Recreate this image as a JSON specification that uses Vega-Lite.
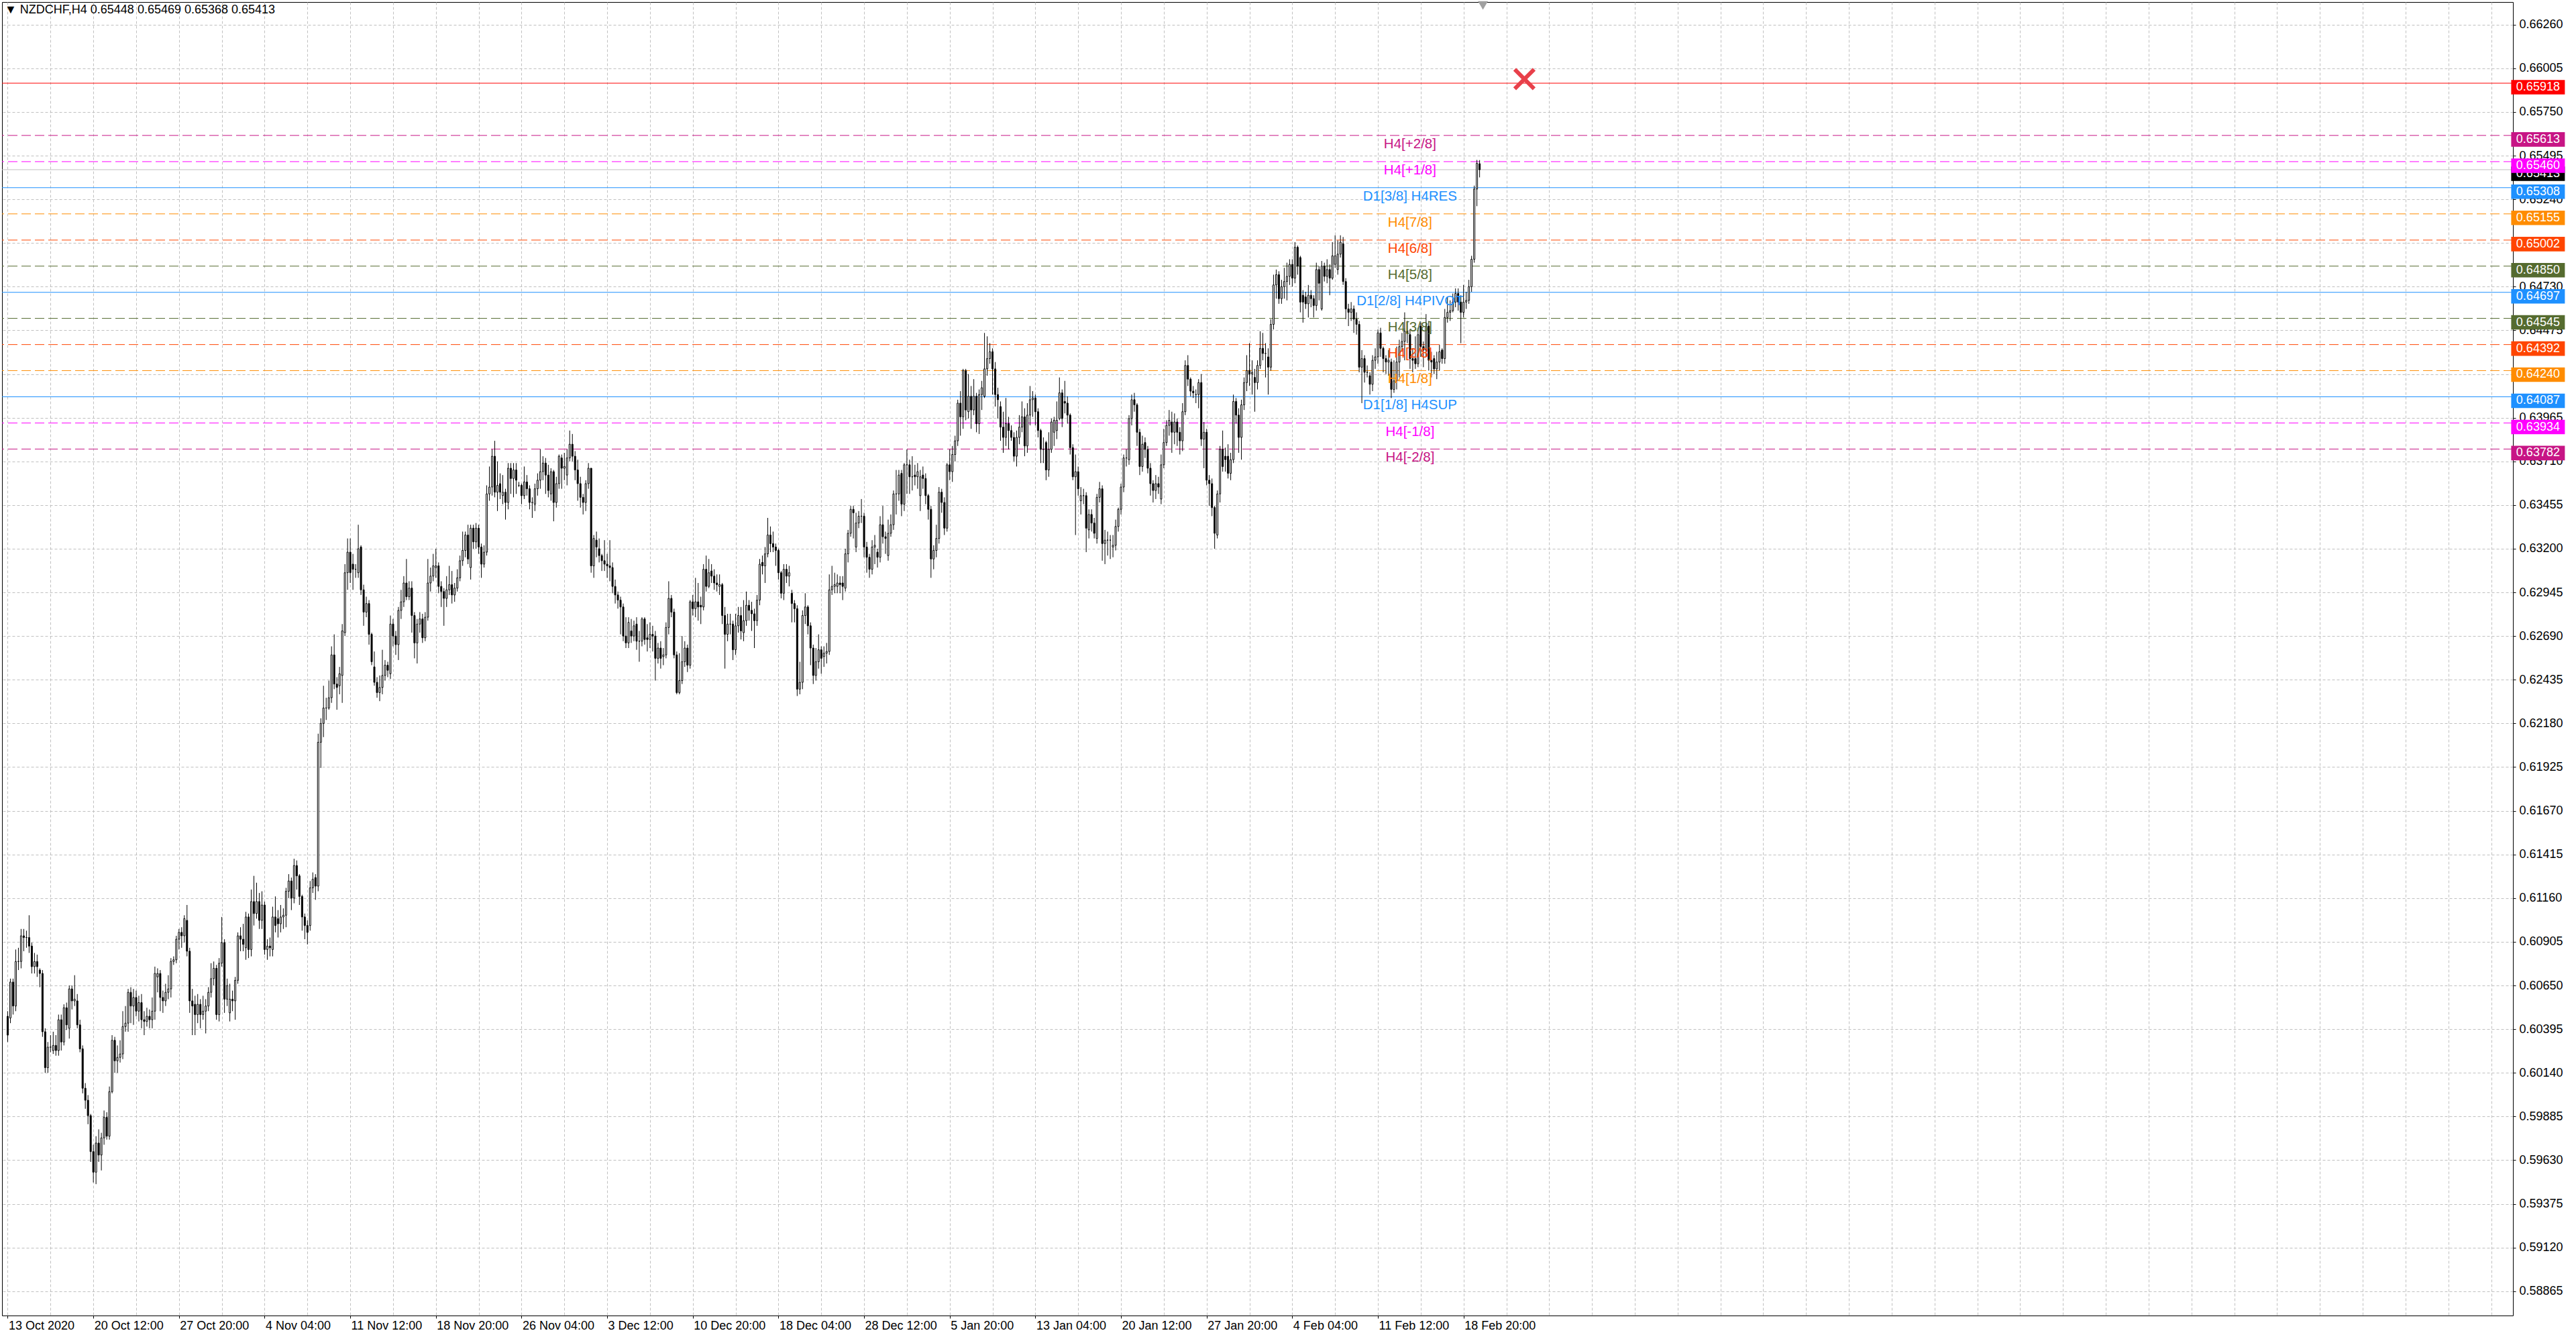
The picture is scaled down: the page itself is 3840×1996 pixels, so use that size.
{
"$schema": "https://vega.github.io/schema/vega-lite/v6.json",
"width": 3743, "height": 1958,
"autosize": {"type": "none"},
"padding": {"left": 3, "top": 3, "right": 94, "bottom": 35},
"background": "white",
"title": {"text": "▼  NZDCHF,H4  0.65448 0.65469 0.65368 0.65413", "anchor": "start", "frame": "group", "offset": -22, "dx": 4, "font": "Liberation Sans", "fontSize": 18, "fontWeight": "normal", "color": "black"},
"datasets": {
"levels": [
{"name":"Bid","price":0.65413,"kind":"BID"},
{"name":"Target","price":0.65918,"kind":"X"},
{"name":"H4[+2/8]","price":0.65613,"kind":"H4"},
{"name":"H4[+1/8]","price":0.6546,"kind":"H4"},
{"name":"D1[3/8] H4RES","price":0.65308,"kind":"D1"},
{"name":"H4[7/8]","price":0.65155,"kind":"H4"},
{"name":"H4[6/8]","price":0.65002,"kind":"H4"},
{"name":"H4[5/8]","price":0.6485,"kind":"H4"},
{"name":"D1[2/8] H4PIVOT","price":0.64697,"kind":"D1"},
{"name":"H4[3/8]","price":0.64545,"kind":"H4"},
{"name":"H4[2/8]","price":0.64392,"kind":"H4"},
{"name":"H4[1/8]","price":0.6424,"kind":"H4"},
{"name":"D1[1/8] H4SUP","price":0.64087,"kind":"D1"},
{"name":"H4[-1/8]","price":0.63934,"kind":"H4"},
{"name":"H4[-2/8]","price":0.63782,"kind":"H4"}
],
"objects": [
{"obj":"cross","i":566.75,"price":0.65942},
{"obj":"shift","i":551.25,"price":0.66372}
],
"candles": [
{"i":0,"o":0.6047,"h":0.605,"l":0.6032,"c":0.6036},
{"i":1,"o":0.6046,"h":0.6069,"l":0.6043,"c":0.6067},
{"i":2,"o":0.6067,"h":0.6069,"l":0.6048,"c":0.6053},
{"i":3,"o":0.6053,"h":0.6086,"l":0.605,"c":0.6079},
{"i":4,"o":0.6079,"h":0.6087,"l":0.6074,"c":0.6079},
{"i":5,"o":0.6079,"h":0.6098,"l":0.6075,"c":0.6094},
{"i":6,"o":0.6094,"h":0.6098,"l":0.6085,"c":0.6093},
{"i":7,"o":0.6093,"h":0.6097,"l":0.6087,"c":0.6093},
{"i":8,"o":0.6093,"h":0.6106,"l":0.6084,"c":0.6088},
{"i":9,"o":0.6088,"h":0.609,"l":0.6072,"c":0.6076},
{"i":10,"o":0.6076,"h":0.6084,"l":0.6072,"c":0.6079},
{"i":11,"o":0.6079,"h":0.6083,"l":0.607,"c":0.6076},
{"i":12,"o":0.6074,"h":0.6075,"l":0.6064,"c":0.6072},
{"i":13,"o":0.6072,"h":0.6074,"l":0.6035,"c":0.6038},
{"i":14,"o":0.6038,"h":0.604,"l":0.6014,"c":0.6017},
{"i":15,"o":0.6017,"h":0.6032,"l":0.6014,"c":0.6029},
{"i":16,"o":0.6029,"h":0.6036,"l":0.6026,"c":0.6029},
{"i":17,"o":0.6027,"h":0.6038,"l":0.6025,"c":0.603},
{"i":18,"o":0.603,"h":0.6036,"l":0.6024,"c":0.6027},
{"i":19,"o":0.6027,"h":0.6048,"l":0.6024,"c":0.6045},
{"i":20,"o":0.6045,"h":0.6048,"l":0.6027,"c":0.6032},
{"i":21,"o":0.6032,"h":0.6054,"l":0.603,"c":0.6052},
{"i":22,"o":0.6052,"h":0.6055,"l":0.6039,"c":0.6042},
{"i":23,"o":0.604,"h":0.6065,"l":0.6034,"c":0.6063},
{"i":24,"o":0.6063,"h":0.6065,"l":0.6051,"c":0.6056},
{"i":25,"o":0.6056,"h":0.6071,"l":0.6053,"c":0.6057},
{"i":26,"o":0.6056,"h":0.606,"l":0.604,"c":0.6042},
{"i":27,"o":0.6042,"h":0.6045,"l":0.6026,"c":0.6028},
{"i":28,"o":0.6028,"h":0.603,"l":0.6002,"c":0.6005},
{"i":29,"o":0.6005,"h":0.6008,"l":0.5993,"c":0.5998},
{"i":30,"o":0.5998,"h":0.6001,"l":0.5984,"c":0.5989},
{"i":31,"o":0.5989,"h":0.599,"l":0.5962,"c":0.5968},
{"i":32,"o":0.5968,"h":0.5972,"l":0.595,"c":0.5956},
{"i":33,"o":0.5956,"h":0.5977,"l":0.5949,"c":0.5973},
{"i":34,"o":0.5973,"h":0.5981,"l":0.5962,"c":0.5966},
{"i":35,"o":0.5966,"h":0.5979,"l":0.5957,"c":0.5976},
{"i":36,"o":0.5976,"h":0.5992,"l":0.5972,"c":0.5988},
{"i":37,"o":0.5988,"h":0.5991,"l":0.5975,"c":0.5977},
{"i":38,"o":0.5977,"h":0.6006,"l":0.5975,"c":0.6003},
{"i":39,"o":0.6003,"h":0.6036,"l":0.6002,"c":0.6033},
{"i":40,"o":0.6033,"h":0.6035,"l":0.6014,"c":0.6021},
{"i":41,"o":0.6021,"h":0.603,"l":0.6014,"c":0.6023},
{"i":42,"o":0.6023,"h":0.6033,"l":0.602,"c":0.6025},
{"i":43,"o":0.6025,"h":0.605,"l":0.6022,"c":0.6041},
{"i":44,"o":0.6041,"h":0.6053,"l":0.6038,"c":0.6043},
{"i":45,"o":0.6043,"h":0.6063,"l":0.6038,"c":0.6061},
{"i":46,"o":0.6061,"h":0.6064,"l":0.6043,"c":0.6053},
{"i":47,"o":0.6053,"h":0.6063,"l":0.6042,"c":0.6058},
{"i":48,"o":0.6058,"h":0.6062,"l":0.6047,"c":0.605},
{"i":49,"o":0.605,"h":0.6059,"l":0.6044,"c":0.6055},
{"i":50,"o":0.6055,"h":0.606,"l":0.604,"c":0.6045},
{"i":51,"o":0.6045,"h":0.605,"l":0.6036,"c":0.6044},
{"i":52,"o":0.6044,"h":0.6052,"l":0.6041,"c":0.6047},
{"i":53,"o":0.6047,"h":0.6051,"l":0.604,"c":0.6045},
{"i":54,"o":0.6045,"h":0.6058,"l":0.604,"c":0.605},
{"i":55,"o":0.605,"h":0.6076,"l":0.6045,"c":0.6072},
{"i":56,"o":0.607,"h":0.6075,"l":0.6061,"c":0.6072},
{"i":57,"o":0.6072,"h":0.6074,"l":0.605,"c":0.6058},
{"i":58,"o":0.6058,"h":0.6062,"l":0.6049,"c":0.6056},
{"i":59,"o":0.6056,"h":0.6066,"l":0.6053,"c":0.6061},
{"i":60,"o":0.6061,"h":0.6071,"l":0.6057,"c":0.6063},
{"i":61,"o":0.6063,"h":0.6081,"l":0.6058,"c":0.6079},
{"i":62,"o":0.6079,"h":0.6082,"l":0.6077,"c":0.608},
{"i":63,"o":0.608,"h":0.6094,"l":0.6078,"c":0.6092},
{"i":64,"o":0.6092,"h":0.6098,"l":0.6086,"c":0.6096},
{"i":65,"o":0.6096,"h":0.6099,"l":0.6087,"c":0.6094},
{"i":66,"o":0.6094,"h":0.6106,"l":0.609,"c":0.6104},
{"i":67,"o":0.6103,"h":0.6112,"l":0.6082,"c":0.6085},
{"i":68,"o":0.6085,"h":0.6087,"l":0.6049,"c":0.6056},
{"i":69,"o":0.6056,"h":0.6063,"l":0.6036,"c":0.6053},
{"i":70,"o":0.6054,"h":0.6059,"l":0.6036,"c":0.6048},
{"i":71,"o":0.6048,"h":0.606,"l":0.6043,"c":0.6054},
{"i":72,"o":0.6054,"h":0.6057,"l":0.604,"c":0.6048},
{"i":73,"o":0.6048,"h":0.6059,"l":0.6045,"c":0.605},
{"i":74,"o":0.605,"h":0.6057,"l":0.6037,"c":0.6053},
{"i":75,"o":0.6053,"h":0.6064,"l":0.605,"c":0.6061},
{"i":76,"o":0.6061,"h":0.6078,"l":0.6058,"c":0.6069},
{"i":77,"o":0.6069,"h":0.6079,"l":0.6065,"c":0.6075},
{"i":78,"o":0.6075,"h":0.6077,"l":0.6045,"c":0.6048},
{"i":79,"o":0.6048,"h":0.6081,"l":0.6044,"c":0.6078},
{"i":80,"o":0.6078,"h":0.6105,"l":0.6076,"c":0.609},
{"i":81,"o":0.609,"h":0.6092,"l":0.6049,"c":0.6057},
{"i":82,"o":0.6057,"h":0.6069,"l":0.6053,"c":0.6065},
{"i":83,"o":0.6049,"h":0.6066,"l":0.6044,"c":0.6057},
{"i":84,"o":0.6057,"h":0.6062,"l":0.605,"c":0.6056},
{"i":85,"o":0.6056,"h":0.607,"l":0.6045,"c":0.6068},
{"i":86,"o":0.6068,"h":0.6096,"l":0.6066,"c":0.6094},
{"i":87,"o":0.6094,"h":0.6099,"l":0.6085,"c":0.6092},
{"i":88,"o":0.6092,"h":0.6101,"l":0.6085,"c":0.6089},
{"i":89,"o":0.6087,"h":0.6108,"l":0.608,"c":0.6105},
{"i":90,"o":0.6105,"h":0.6107,"l":0.6081,"c":0.6086},
{"i":91,"o":0.6086,"h":0.6121,"l":0.6082,"c":0.6114},
{"i":92,"o":0.6114,"h":0.6129,"l":0.61,"c":0.6107},
{"i":93,"o":0.6107,"h":0.6125,"l":0.6104,"c":0.6114},
{"i":94,"o":0.6114,"h":0.6119,"l":0.6098,"c":0.6103},
{"i":95,"o":0.6103,"h":0.612,"l":0.6098,"c":0.6112},
{"i":96,"o":0.6112,"h":0.6114,"l":0.6083,"c":0.6086},
{"i":97,"o":0.6086,"h":0.6092,"l":0.608,"c":0.6088},
{"i":98,"o":0.6088,"h":0.6093,"l":0.6082,"c":0.6087},
{"i":99,"o":0.6086,"h":0.6111,"l":0.6082,"c":0.6105},
{"i":100,"o":0.6105,"h":0.6117,"l":0.6096,"c":0.61},
{"i":101,"o":0.6104,"h":0.6109,"l":0.6093,"c":0.6101},
{"i":102,"o":0.6101,"h":0.6112,"l":0.6096,"c":0.6105},
{"i":103,"o":0.6105,"h":0.611,"l":0.6098,"c":0.6106},
{"i":104,"o":0.6106,"h":0.6122,"l":0.6099,"c":0.612},
{"i":105,"o":0.612,"h":0.613,"l":0.6116,"c":0.6126},
{"i":106,"o":0.6126,"h":0.6128,"l":0.6109,"c":0.6116},
{"i":107,"o":0.6116,"h":0.6139,"l":0.6113,"c":0.6135},
{"i":108,"o":0.6135,"h":0.6138,"l":0.6121,"c":0.6129},
{"i":109,"o":0.6129,"h":0.613,"l":0.6112,"c":0.6117},
{"i":110,"o":0.6117,"h":0.6118,"l":0.6097,"c":0.6105},
{"i":111,"o":0.6105,"h":0.6107,"l":0.6092,"c":0.61},
{"i":112,"o":0.61,"h":0.6103,"l":0.6089,"c":0.6096},
{"i":113,"o":0.61,"h":0.6126,"l":0.6097,"c":0.6122},
{"i":114,"o":0.6122,"h":0.6131,"l":0.6119,"c":0.6127},
{"i":115,"o":0.6128,"h":0.613,"l":0.6115,"c":0.6123},
{"i":116,"o":0.6123,"h":0.6212,"l":0.612,"c":0.6207},
{"i":117,"o":0.6207,"h":0.6221,"l":0.6192,"c":0.6218},
{"i":118,"o":0.6218,"h":0.624,"l":0.621,"c":0.6227},
{"i":119,"o":0.6227,"h":0.6233,"l":0.622,"c":0.6227},
{"i":120,"o":0.6227,"h":0.6243,"l":0.6226,"c":0.6233},
{"i":121,"o":0.6233,"h":0.6263,"l":0.623,"c":0.6258},
{"i":122,"o":0.6258,"h":0.627,"l":0.6238,"c":0.6241},
{"i":123,"o":0.6241,"h":0.6245,"l":0.6226,"c":0.6239},
{"i":124,"o":0.624,"h":0.6251,"l":0.6235,"c":0.6247},
{"i":125,"o":0.6246,"h":0.6276,"l":0.623,"c":0.6272},
{"i":126,"o":0.6271,"h":0.6311,"l":0.6269,"c":0.6306},
{"i":127,"o":0.6306,"h":0.6326,"l":0.6296,"c":0.6318},
{"i":128,"o":0.6318,"h":0.6326,"l":0.63,"c":0.6306},
{"i":129,"o":0.6311,"h":0.6317,"l":0.6296,"c":0.6308},
{"i":130,"o":0.6308,"h":0.6311,"l":0.6303,"c":0.6308},
{"i":131,"o":0.6306,"h":0.6334,"l":0.6303,"c":0.632},
{"i":132,"o":0.6321,"h":0.6322,"l":0.6293,"c":0.6296},
{"i":133,"o":0.6296,"h":0.6299,"l":0.6275,"c":0.6283},
{"i":134,"o":0.6283,"h":0.6292,"l":0.628,"c":0.6288},
{"i":135,"o":0.6288,"h":0.629,"l":0.6264,"c":0.627},
{"i":136,"o":0.627,"h":0.6271,"l":0.6252,"c":0.6254},
{"i":137,"o":0.6251,"h":0.626,"l":0.624,"c":0.6242},
{"i":138,"o":0.6242,"h":0.6245,"l":0.6233,"c":0.6236},
{"i":139,"o":0.6236,"h":0.6246,"l":0.6231,"c":0.6239},
{"i":140,"o":0.6239,"h":0.6261,"l":0.6235,"c":0.6246},
{"i":141,"o":0.6246,"h":0.6255,"l":0.6243,"c":0.6252},
{"i":142,"o":0.6252,"h":0.6254,"l":0.6245,"c":0.6249},
{"i":143,"o":0.6247,"h":0.6281,"l":0.6244,"c":0.6276},
{"i":144,"o":0.6276,"h":0.6279,"l":0.6263,"c":0.6269},
{"i":145,"o":0.6269,"h":0.6272,"l":0.6258,"c":0.6264},
{"i":146,"o":0.6264,"h":0.6286,"l":0.6255,"c":0.6284},
{"i":147,"o":0.6284,"h":0.6296,"l":0.6279,"c":0.6289},
{"i":148,"o":0.6289,"h":0.6304,"l":0.6286,"c":0.63},
{"i":149,"o":0.63,"h":0.6314,"l":0.629,"c":0.6292},
{"i":150,"o":0.6292,"h":0.6301,"l":0.629,"c":0.6297},
{"i":151,"o":0.6297,"h":0.6301,"l":0.6271,"c":0.6281},
{"i":152,"o":0.6281,"h":0.6283,"l":0.6256,"c":0.6265},
{"i":153,"o":0.6265,"h":0.6279,"l":0.6253,"c":0.6276},
{"i":154,"o":0.6276,"h":0.6283,"l":0.6271,"c":0.6279},
{"i":155,"o":0.6279,"h":0.6282,"l":0.6265,"c":0.6268},
{"i":156,"o":0.6268,"h":0.6283,"l":0.6266,"c":0.628},
{"i":157,"o":0.628,"h":0.6314,"l":0.6278,"c":0.63},
{"i":158,"o":0.63,"h":0.6309,"l":0.6295,"c":0.6304},
{"i":159,"o":0.6304,"h":0.6317,"l":0.6301,"c":0.631},
{"i":160,"o":0.6309,"h":0.632,"l":0.6303,"c":0.631},
{"i":161,"o":0.631,"h":0.6312,"l":0.6294,"c":0.6298},
{"i":162,"o":0.6298,"h":0.6301,"l":0.6286,"c":0.6295},
{"i":163,"o":0.6295,"h":0.6297,"l":0.6275,"c":0.6291},
{"i":164,"o":0.6291,"h":0.6304,"l":0.6286,"c":0.6296},
{"i":165,"o":0.6296,"h":0.631,"l":0.6293,"c":0.6299},
{"i":166,"o":0.6299,"h":0.6307,"l":0.6288,"c":0.6293},
{"i":167,"o":0.6293,"h":0.63,"l":0.6289,"c":0.6297},
{"i":168,"o":0.6297,"h":0.6308,"l":0.6295,"c":0.6303},
{"i":169,"o":0.6303,"h":0.6316,"l":0.6301,"c":0.6313},
{"i":170,"o":0.6313,"h":0.633,"l":0.631,"c":0.6319},
{"i":171,"o":0.6319,"h":0.633,"l":0.6315,"c":0.6328},
{"i":172,"o":0.6328,"h":0.6334,"l":0.6311,"c":0.6314},
{"i":173,"o":0.6309,"h":0.6334,"l":0.6302,"c":0.6332},
{"i":174,"o":0.6332,"h":0.6334,"l":0.632,"c":0.6324},
{"i":175,"o":0.6324,"h":0.6335,"l":0.632,"c":0.6332},
{"i":176,"o":0.6332,"h":0.6334,"l":0.6317,"c":0.6321},
{"i":177,"o":0.6321,"h":0.6323,"l":0.6303,"c":0.6311},
{"i":178,"o":0.6311,"h":0.6322,"l":0.6309,"c":0.6318},
{"i":179,"o":0.6318,"h":0.6357,"l":0.6316,"c":0.6352},
{"i":180,"o":0.6352,"h":0.6368,"l":0.6348,"c":0.6356},
{"i":181,"o":0.6356,"h":0.6378,"l":0.6351,"c":0.6374},
{"i":182,"o":0.6374,"h":0.6383,"l":0.635,"c":0.6353},
{"i":183,"o":0.6353,"h":0.6371,"l":0.6342,"c":0.6357},
{"i":184,"o":0.6358,"h":0.6364,"l":0.6349,"c":0.6353},
{"i":185,"o":0.6351,"h":0.6363,"l":0.6346,"c":0.6353},
{"i":186,"o":0.6353,"h":0.6355,"l":0.6337,"c":0.6347},
{"i":187,"o":0.6347,"h":0.637,"l":0.6343,"c":0.6367},
{"i":188,"o":0.6367,"h":0.637,"l":0.6352,"c":0.6361},
{"i":189,"o":0.6361,"h":0.637,"l":0.635,"c":0.6366},
{"i":190,"o":0.6366,"h":0.637,"l":0.6352,"c":0.636},
{"i":191,"o":0.6357,"h":0.6359,"l":0.6356,"c":0.6357},
{"i":192,"o":0.6357,"h":0.6358,"l":0.6346,"c":0.6351},
{"i":193,"o":0.6351,"h":0.6368,"l":0.6349,"c":0.6359},
{"i":194,"o":0.6359,"h":0.6363,"l":0.6351,"c":0.6355},
{"i":195,"o":0.6355,"h":0.6357,"l":0.6343,"c":0.6347},
{"i":196,"o":0.6347,"h":0.635,"l":0.6338,"c":0.6347},
{"i":197,"o":0.6346,"h":0.6358,"l":0.6342,"c":0.6355},
{"i":198,"o":0.6355,"h":0.6364,"l":0.6351,"c":0.636},
{"i":199,"o":0.636,"h":0.6378,"l":0.6355,"c":0.6365},
{"i":200,"o":0.6365,"h":0.6374,"l":0.636,"c":0.637},
{"i":201,"o":0.637,"h":0.6373,"l":0.6352,"c":0.6363},
{"i":202,"o":0.6363,"h":0.6369,"l":0.635,"c":0.6354},
{"i":203,"o":0.6352,"h":0.6367,"l":0.6348,"c":0.6365},
{"i":204,"o":0.6365,"h":0.6366,"l":0.6336,"c":0.6347},
{"i":205,"o":0.6347,"h":0.6362,"l":0.6344,"c":0.6358},
{"i":206,"o":0.6358,"h":0.6375,"l":0.6355,"c":0.6374},
{"i":207,"o":0.6373,"h":0.6375,"l":0.6355,"c":0.6367},
{"i":208,"o":0.6367,"h":0.6376,"l":0.636,"c":0.6368},
{"i":209,"o":0.6363,"h":0.6378,"l":0.6357,"c":0.6373},
{"i":210,"o":0.6373,"h":0.6389,"l":0.6371,"c":0.6381},
{"i":211,"o":0.6381,"h":0.6387,"l":0.6371,"c":0.6374},
{"i":212,"o":0.6374,"h":0.6377,"l":0.636,"c":0.6366},
{"i":213,"o":0.6366,"h":0.6372,"l":0.6348,"c":0.6358},
{"i":214,"o":0.6358,"h":0.6362,"l":0.6344,"c":0.635},
{"i":215,"o":0.635,"h":0.6352,"l":0.634,"c":0.6347},
{"i":216,"o":0.6347,"h":0.636,"l":0.6342,"c":0.6358},
{"i":217,"o":0.6358,"h":0.637,"l":0.6355,"c":0.6367},
{"i":218,"o":0.6367,"h":0.6367,"l":0.6306,"c":0.631},
{"i":219,"o":0.631,"h":0.6328,"l":0.6303,"c":0.6326},
{"i":220,"o":0.6325,"h":0.633,"l":0.6315,"c":0.6321},
{"i":221,"o":0.632,"h":0.6326,"l":0.6312,"c":0.6316},
{"i":222,"o":0.6316,"h":0.6317,"l":0.6307,"c":0.6313},
{"i":223,"o":0.6313,"h":0.6325,"l":0.6307,"c":0.6311},
{"i":224,"o":0.6311,"h":0.6317,"l":0.6303,"c":0.631},
{"i":225,"o":0.631,"h":0.6325,"l":0.6301,"c":0.6309},
{"i":226,"o":0.6309,"h":0.6312,"l":0.6294,"c":0.6298},
{"i":227,"o":0.6298,"h":0.6302,"l":0.6288,"c":0.6293},
{"i":228,"o":0.6293,"h":0.6295,"l":0.6285,"c":0.629},
{"i":229,"o":0.629,"h":0.6292,"l":0.627,"c":0.6286},
{"i":230,"o":0.6286,"h":0.6288,"l":0.6266,"c":0.6269},
{"i":231,"o":0.6269,"h":0.628,"l":0.6262,"c":0.6265},
{"i":232,"o":0.6265,"h":0.628,"l":0.6262,"c":0.6277},
{"i":233,"o":0.6272,"h":0.6279,"l":0.6265,"c":0.6269},
{"i":234,"o":0.6269,"h":0.6278,"l":0.6266,"c":0.6275},
{"i":235,"o":0.6276,"h":0.628,"l":0.6261,"c":0.6266},
{"i":236,"o":0.6266,"h":0.6272,"l":0.6254,"c":0.6266},
{"i":237,"o":0.6266,"h":0.628,"l":0.6263,"c":0.6279},
{"i":238,"o":0.6279,"h":0.628,"l":0.6264,"c":0.6267},
{"i":239,"o":0.6268,"h":0.6276,"l":0.626,"c":0.6267},
{"i":240,"o":0.6267,"h":0.6277,"l":0.6262,"c":0.627},
{"i":241,"o":0.627,"h":0.6275,"l":0.626,"c":0.6269},
{"i":242,"o":0.6269,"h":0.6272,"l":0.6243,"c":0.6256},
{"i":243,"o":0.6256,"h":0.6265,"l":0.6253,"c":0.6262},
{"i":244,"o":0.6262,"h":0.6266,"l":0.625,"c":0.6256},
{"i":245,"o":0.6257,"h":0.6262,"l":0.6252,"c":0.6258},
{"i":246,"o":0.6258,"h":0.6277,"l":0.6256,"c":0.6274},
{"i":247,"o":0.6274,"h":0.6301,"l":0.627,"c":0.6291},
{"i":248,"o":0.6291,"h":0.6293,"l":0.628,"c":0.6283},
{"i":249,"o":0.6283,"h":0.6285,"l":0.6256,"c":0.6258},
{"i":250,"o":0.6258,"h":0.626,"l":0.6235,"c":0.6236},
{"i":251,"o":0.6236,"h":0.6259,"l":0.6235,"c":0.6243},
{"i":252,"o":0.6243,"h":0.6269,"l":0.6241,"c":0.6254},
{"i":253,"o":0.6254,"h":0.6266,"l":0.6251,"c":0.6262},
{"i":254,"o":0.6262,"h":0.6264,"l":0.6248,"c":0.6252},
{"i":255,"o":0.6252,"h":0.629,"l":0.625,"c":0.6289},
{"i":256,"o":0.6289,"h":0.6293,"l":0.6281,"c":0.6285},
{"i":257,"o":0.6285,"h":0.6303,"l":0.628,"c":0.6289},
{"i":258,"o":0.6289,"h":0.63,"l":0.6278,"c":0.6286},
{"i":259,"o":0.6287,"h":0.6292,"l":0.6276,"c":0.6286},
{"i":260,"o":0.6286,"h":0.6311,"l":0.6284,"c":0.6308},
{"i":261,"o":0.6308,"h":0.6316,"l":0.6295,"c":0.6298},
{"i":262,"o":0.6298,"h":0.6314,"l":0.6297,"c":0.6306},
{"i":263,"o":0.6307,"h":0.6311,"l":0.63,"c":0.6304},
{"i":264,"o":0.6304,"h":0.6308,"l":0.6296,"c":0.63},
{"i":265,"o":0.63,"h":0.6305,"l":0.6295,"c":0.6299},
{"i":266,"o":0.6298,"h":0.6305,"l":0.6293,"c":0.6299},
{"i":267,"o":0.6299,"h":0.63,"l":0.6276,"c":0.6281},
{"i":268,"o":0.6281,"h":0.6286,"l":0.625,"c":0.627},
{"i":269,"o":0.627,"h":0.6282,"l":0.6266,"c":0.6276},
{"i":270,"o":0.6276,"h":0.6282,"l":0.627,"c":0.6276},
{"i":271,"o":0.6276,"h":0.6278,"l":0.6255,"c":0.6261},
{"i":272,"o":0.6261,"h":0.6282,"l":0.6258,"c":0.6275},
{"i":273,"o":0.6275,"h":0.6286,"l":0.6271,"c":0.6281},
{"i":274,"o":0.6281,"h":0.6286,"l":0.6267,"c":0.6272},
{"i":275,"o":0.6271,"h":0.629,"l":0.6266,"c":0.6278},
{"i":276,"o":0.6278,"h":0.6295,"l":0.6275,"c":0.6287},
{"i":277,"o":0.6287,"h":0.629,"l":0.6278,"c":0.6284},
{"i":278,"o":0.6284,"h":0.6289,"l":0.6272,"c":0.6282},
{"i":279,"o":0.6282,"h":0.6285,"l":0.6262,"c":0.6278},
{"i":280,"o":0.6278,"h":0.6293,"l":0.6275,"c":0.629},
{"i":281,"o":0.629,"h":0.6314,"l":0.6287,"c":0.6311},
{"i":282,"o":0.6312,"h":0.6316,"l":0.6305,"c":0.631},
{"i":283,"o":0.631,"h":0.6321,"l":0.63,"c":0.6317},
{"i":284,"o":0.6317,"h":0.6338,"l":0.6315,"c":0.6328},
{"i":285,"o":0.6328,"h":0.6333,"l":0.6318,"c":0.6323},
{"i":286,"o":0.6323,"h":0.633,"l":0.6318,"c":0.6321},
{"i":287,"o":0.6321,"h":0.6323,"l":0.631,"c":0.6319},
{"i":288,"o":0.6319,"h":0.632,"l":0.6302,"c":0.6306},
{"i":289,"o":0.6306,"h":0.6307,"l":0.6291,"c":0.6294},
{"i":290,"o":0.6294,"h":0.6311,"l":0.629,"c":0.6308},
{"i":291,"o":0.6308,"h":0.6311,"l":0.63,"c":0.6304},
{"i":292,"o":0.6304,"h":0.631,"l":0.6298,"c":0.6306},
{"i":293,"o":0.6294,"h":0.6296,"l":0.6277,"c":0.6288},
{"i":294,"o":0.6288,"h":0.629,"l":0.6277,"c":0.6285},
{"i":295,"o":0.6285,"h":0.6287,"l":0.6234,"c":0.6238},
{"i":296,"o":0.6238,"h":0.6254,"l":0.6235,"c":0.6242},
{"i":297,"o":0.6242,"h":0.6284,"l":0.6238,"c":0.6281},
{"i":298,"o":0.6281,"h":0.6294,"l":0.6276,"c":0.6286},
{"i":299,"o":0.6286,"h":0.6287,"l":0.627,"c":0.6275},
{"i":300,"o":0.6275,"h":0.6277,"l":0.6252,"c":0.6262},
{"i":301,"o":0.6262,"h":0.6264,"l":0.6241,"c":0.6246},
{"i":302,"o":0.6246,"h":0.6262,"l":0.6243,"c":0.6254},
{"i":303,"o":0.6254,"h":0.627,"l":0.625,"c":0.6261},
{"i":304,"o":0.6261,"h":0.6263,"l":0.6247,"c":0.6256},
{"i":305,"o":0.6257,"h":0.6263,"l":0.6251,"c":0.6259},
{"i":306,"o":0.6259,"h":0.6265,"l":0.6253,"c":0.626},
{"i":307,"o":0.626,"h":0.6305,"l":0.6258,"c":0.6296},
{"i":308,"o":0.6296,"h":0.631,"l":0.6293,"c":0.6298},
{"i":309,"o":0.6298,"h":0.6306,"l":0.6294,"c":0.6299},
{"i":310,"o":0.6298,"h":0.6305,"l":0.6294,"c":0.63},
{"i":311,"o":0.63,"h":0.6304,"l":0.6294,"c":0.6299},
{"i":312,"o":0.63,"h":0.6304,"l":0.629,"c":0.6298},
{"i":313,"o":0.6297,"h":0.632,"l":0.6295,"c":0.6317},
{"i":314,"o":0.6317,"h":0.6331,"l":0.6312,"c":0.6329},
{"i":315,"o":0.6329,"h":0.6345,"l":0.6327,"c":0.6343},
{"i":316,"o":0.6343,"h":0.6345,"l":0.6326,"c":0.6341},
{"i":317,"o":0.6321,"h":0.6341,"l":0.6318,"c":0.6335},
{"i":318,"o":0.6335,"h":0.6342,"l":0.6332,"c":0.6339},
{"i":319,"o":0.6339,"h":0.6349,"l":0.6335,"c":0.6339},
{"i":320,"o":0.6339,"h":0.6341,"l":0.6315,"c":0.6321},
{"i":321,"o":0.6321,"h":0.6324,"l":0.6306,"c":0.6315},
{"i":322,"o":0.6315,"h":0.6317,"l":0.6303,"c":0.6308},
{"i":323,"o":0.6308,"h":0.6325,"l":0.6305,"c":0.6321},
{"i":324,"o":0.6321,"h":0.6328,"l":0.6311,"c":0.6322},
{"i":325,"o":0.6318,"h":0.632,"l":0.6309,"c":0.6315},
{"i":326,"o":0.6315,"h":0.6339,"l":0.6312,"c":0.6334},
{"i":327,"o":0.6334,"h":0.6345,"l":0.6323,"c":0.6327},
{"i":328,"o":0.6327,"h":0.633,"l":0.6317,"c":0.6326},
{"i":329,"o":0.6316,"h":0.6337,"l":0.6313,"c":0.6329},
{"i":330,"o":0.6329,"h":0.634,"l":0.6327,"c":0.6334},
{"i":331,"o":0.6334,"h":0.6354,"l":0.6331,"c":0.6352},
{"i":332,"o":0.6352,"h":0.6366,"l":0.634,"c":0.6352},
{"i":333,"o":0.6352,"h":0.6366,"l":0.6348,"c":0.6363},
{"i":334,"o":0.6364,"h":0.6366,"l":0.6339,"c":0.6346},
{"i":335,"o":0.6346,"h":0.637,"l":0.6342,"c":0.6369},
{"i":336,"o":0.6369,"h":0.6378,"l":0.6352,"c":0.6369},
{"i":337,"o":0.6369,"h":0.6372,"l":0.6352,"c":0.6362},
{"i":338,"o":0.6362,"h":0.6374,"l":0.6354,"c":0.6362},
{"i":339,"o":0.6363,"h":0.6369,"l":0.6357,"c":0.6362},
{"i":340,"o":0.6362,"h":0.637,"l":0.6355,"c":0.6365},
{"i":341,"o":0.6351,"h":0.6366,"l":0.6342,"c":0.6362},
{"i":342,"o":0.6363,"h":0.6368,"l":0.6355,"c":0.6361},
{"i":343,"o":0.6361,"h":0.6364,"l":0.6346,"c":0.6351},
{"i":344,"o":0.6351,"h":0.6352,"l":0.6337,"c":0.6343},
{"i":345,"o":0.6343,"h":0.6345,"l":0.6303,"c":0.6314},
{"i":346,"o":0.6314,"h":0.6322,"l":0.6308,"c":0.6319},
{"i":347,"o":0.6319,"h":0.6334,"l":0.6315,"c":0.6326},
{"i":348,"o":0.6326,"h":0.6356,"l":0.6323,"c":0.6353},
{"i":349,"o":0.6353,"h":0.6355,"l":0.6341,"c":0.6347},
{"i":350,"o":0.6347,"h":0.635,"l":0.6328,"c":0.6332},
{"i":351,"o":0.6332,"h":0.637,"l":0.633,"c":0.6369},
{"i":352,"o":0.6369,"h":0.6378,"l":0.636,"c":0.6365},
{"i":353,"o":0.6365,"h":0.638,"l":0.6359,"c":0.6375},
{"i":354,"o":0.6375,"h":0.6386,"l":0.6371,"c":0.6383},
{"i":355,"o":0.6383,"h":0.6407,"l":0.638,"c":0.6405},
{"i":356,"o":0.6405,"h":0.6412,"l":0.6386,"c":0.6397},
{"i":357,"o":0.6397,"h":0.6425,"l":0.639,"c":0.6424},
{"i":358,"o":0.6424,"h":0.6425,"l":0.6395,"c":0.6401},
{"i":359,"o":0.64,"h":0.6422,"l":0.6396,"c":0.6409},
{"i":360,"o":0.6409,"h":0.6415,"l":0.639,"c":0.6401},
{"i":361,"o":0.6401,"h":0.6419,"l":0.6398,"c":0.6409},
{"i":362,"o":0.6409,"h":0.6411,"l":0.6388,"c":0.6393},
{"i":363,"o":0.6393,"h":0.6413,"l":0.6387,"c":0.641},
{"i":364,"o":0.641,"h":0.6418,"l":0.6401,"c":0.6414},
{"i":365,"o":0.6409,"h":0.6446,"l":0.6408,"c":0.6425},
{"i":366,"o":0.6425,"h":0.6444,"l":0.6421,"c":0.6431},
{"i":367,"o":0.6431,"h":0.644,"l":0.6428,"c":0.6435},
{"i":368,"o":0.6435,"h":0.6437,"l":0.641,"c":0.6425},
{"i":369,"o":0.6425,"h":0.6429,"l":0.6403,"c":0.641},
{"i":370,"o":0.641,"h":0.6414,"l":0.6396,"c":0.6407},
{"i":371,"o":0.6403,"h":0.6406,"l":0.6383,"c":0.6391},
{"i":372,"o":0.6391,"h":0.64,"l":0.6376,"c":0.6385},
{"i":373,"o":0.6385,"h":0.6408,"l":0.638,"c":0.6393},
{"i":374,"o":0.6393,"h":0.6397,"l":0.6378,"c":0.6389},
{"i":375,"o":0.6389,"h":0.6392,"l":0.6383,"c":0.6385},
{"i":376,"o":0.6385,"h":0.6388,"l":0.6371,"c":0.6374},
{"i":377,"o":0.6374,"h":0.6389,"l":0.6368,"c":0.6385},
{"i":378,"o":0.6385,"h":0.6398,"l":0.6381,"c":0.6391},
{"i":379,"o":0.6391,"h":0.6406,"l":0.6388,"c":0.6397},
{"i":380,"o":0.6397,"h":0.6402,"l":0.6374,"c":0.638},
{"i":381,"o":0.638,"h":0.6405,"l":0.6376,"c":0.6398},
{"i":382,"o":0.6398,"h":0.6415,"l":0.6392,"c":0.6407},
{"i":383,"o":0.6407,"h":0.6412,"l":0.6397,"c":0.6408},
{"i":384,"o":0.6408,"h":0.641,"l":0.6392,"c":0.64},
{"i":385,"o":0.64,"h":0.6402,"l":0.6385,"c":0.6389},
{"i":386,"o":0.6389,"h":0.639,"l":0.637,"c":0.6378},
{"i":387,"o":0.6378,"h":0.6385,"l":0.637,"c":0.6378},
{"i":388,"o":0.6382,"h":0.6383,"l":0.636,"c":0.6366},
{"i":389,"o":0.6366,"h":0.6388,"l":0.6362,"c":0.6378},
{"i":390,"o":0.6378,"h":0.6396,"l":0.6376,"c":0.6394},
{"i":391,"o":0.6388,"h":0.6397,"l":0.638,"c":0.6395},
{"i":392,"o":0.6389,"h":0.6406,"l":0.6384,"c":0.6395},
{"i":393,"o":0.6396,"h":0.642,"l":0.6395,"c":0.6411},
{"i":394,"o":0.6411,"h":0.6413,"l":0.6391,"c":0.6396},
{"i":395,"o":0.6406,"h":0.6418,"l":0.6399,"c":0.6405},
{"i":396,"o":0.6405,"h":0.6409,"l":0.6393,"c":0.6398},
{"i":397,"o":0.6398,"h":0.6399,"l":0.6375,"c":0.6379},
{"i":398,"o":0.6379,"h":0.6381,"l":0.636,"c":0.6362},
{"i":399,"o":0.6362,"h":0.6375,"l":0.6328,"c":0.6365},
{"i":400,"o":0.6365,"h":0.6368,"l":0.6351,"c":0.6355},
{"i":401,"o":0.6348,"h":0.6356,"l":0.634,"c":0.6351},
{"i":402,"o":0.6351,"h":0.6355,"l":0.6346,"c":0.6351},
{"i":403,"o":0.6351,"h":0.6353,"l":0.6318,"c":0.6332},
{"i":404,"o":0.6331,"h":0.6343,"l":0.6326,"c":0.634},
{"i":405,"o":0.634,"h":0.6343,"l":0.633,"c":0.6335},
{"i":406,"o":0.6335,"h":0.6338,"l":0.6326,"c":0.6329},
{"i":407,"o":0.6326,"h":0.6352,"l":0.6323,"c":0.635},
{"i":408,"o":0.635,"h":0.6359,"l":0.6347,"c":0.6355},
{"i":409,"o":0.6355,"h":0.6357,"l":0.6313,"c":0.6323},
{"i":410,"o":0.6323,"h":0.6331,"l":0.6311,"c":0.6325},
{"i":411,"o":0.6325,"h":0.633,"l":0.6316,"c":0.6325},
{"i":412,"o":0.6325,"h":0.6328,"l":0.6314,"c":0.6325},
{"i":413,"o":0.6321,"h":0.6328,"l":0.6315,"c":0.6322},
{"i":414,"o":0.6322,"h":0.6337,"l":0.6319,"c":0.6333},
{"i":415,"o":0.6333,"h":0.6344,"l":0.633,"c":0.6343},
{"i":416,"o":0.6343,"h":0.6358,"l":0.634,"c":0.6356},
{"i":417,"o":0.6356,"h":0.6375,"l":0.6353,"c":0.6373},
{"i":418,"o":0.6373,"h":0.6378,"l":0.6368,"c":0.6373},
{"i":419,"o":0.6372,"h":0.6398,"l":0.6369,"c":0.6396},
{"i":420,"o":0.6396,"h":0.641,"l":0.6392,"c":0.6407},
{"i":421,"o":0.6407,"h":0.6411,"l":0.64,"c":0.6404},
{"i":422,"o":0.6404,"h":0.6405,"l":0.638,"c":0.6388},
{"i":423,"o":0.6388,"h":0.639,"l":0.6363,"c":0.6368},
{"i":424,"o":0.6368,"h":0.6386,"l":0.6365,"c":0.6381},
{"i":425,"o":0.6382,"h":0.6385,"l":0.6373,"c":0.6378},
{"i":426,"o":0.6378,"h":0.638,"l":0.6364,"c":0.6367},
{"i":427,"o":0.6367,"h":0.637,"l":0.6351,"c":0.6358},
{"i":428,"o":0.6358,"h":0.636,"l":0.6347,"c":0.6354},
{"i":429,"o":0.6354,"h":0.6363,"l":0.6349,"c":0.6358},
{"i":430,"o":0.6358,"h":0.6362,"l":0.6352,"c":0.6356},
{"i":431,"o":0.6349,"h":0.6375,"l":0.6346,"c":0.6369},
{"i":432,"o":0.6369,"h":0.639,"l":0.6367,"c":0.6382},
{"i":433,"o":0.6382,"h":0.6395,"l":0.638,"c":0.6392},
{"i":434,"o":0.6392,"h":0.6401,"l":0.6386,"c":0.6395},
{"i":435,"o":0.6394,"h":0.64,"l":0.6376,"c":0.6388},
{"i":436,"o":0.6388,"h":0.6399,"l":0.6381,"c":0.6394},
{"i":437,"o":0.6394,"h":0.6396,"l":0.638,"c":0.6388},
{"i":438,"o":0.6388,"h":0.6391,"l":0.6375,"c":0.6383},
{"i":439,"o":0.6383,"h":0.6405,"l":0.6377,"c":0.64},
{"i":440,"o":0.64,"h":0.643,"l":0.6398,"c":0.6427},
{"i":441,"o":0.6427,"h":0.6433,"l":0.6415,"c":0.6419},
{"i":442,"o":0.6419,"h":0.642,"l":0.6409,"c":0.6412},
{"i":443,"o":0.6412,"h":0.6415,"l":0.6408,"c":0.6411},
{"i":444,"o":0.641,"h":0.6413,"l":0.6405,"c":0.641},
{"i":445,"o":0.641,"h":0.6419,"l":0.6402,"c":0.6417},
{"i":446,"o":0.6417,"h":0.6422,"l":0.638,"c":0.6384},
{"i":447,"o":0.6384,"h":0.6394,"l":0.6367,"c":0.6388},
{"i":448,"o":0.6388,"h":0.639,"l":0.6357,"c":0.636},
{"i":449,"o":0.636,"h":0.6363,"l":0.6345,"c":0.6358},
{"i":450,"o":0.6358,"h":0.6361,"l":0.6339,"c":0.6344},
{"i":451,"o":0.6344,"h":0.6345,"l":0.632,"c":0.6329},
{"i":452,"o":0.6328,"h":0.6354,"l":0.6326,"c":0.6352},
{"i":453,"o":0.6352,"h":0.638,"l":0.6347,"c":0.6378},
{"i":454,"o":0.6378,"h":0.6389,"l":0.6365,"c":0.6368},
{"i":455,"o":0.6374,"h":0.6379,"l":0.6365,"c":0.6372},
{"i":456,"o":0.6374,"h":0.6381,"l":0.6361,"c":0.6364},
{"i":457,"o":0.6364,"h":0.6376,"l":0.636,"c":0.6372},
{"i":458,"o":0.6372,"h":0.641,"l":0.637,"c":0.6406},
{"i":459,"o":0.6406,"h":0.6408,"l":0.6393,"c":0.6398},
{"i":460,"o":0.6398,"h":0.6402,"l":0.6376,"c":0.6385},
{"i":461,"o":0.6385,"h":0.6407,"l":0.6372,"c":0.6404},
{"i":462,"o":0.6404,"h":0.642,"l":0.6401,"c":0.6417},
{"i":463,"o":0.6417,"h":0.6433,"l":0.6412,"c":0.6424},
{"i":464,"o":0.6424,"h":0.644,"l":0.6415,"c":0.6422},
{"i":465,"o":0.6422,"h":0.643,"l":0.641,"c":0.6423},
{"i":466,"o":0.642,"h":0.6425,"l":0.64,"c":0.6417},
{"i":467,"o":0.6417,"h":0.643,"l":0.6413,"c":0.6427},
{"i":468,"o":0.6427,"h":0.6447,"l":0.6425,"c":0.6437},
{"i":469,"o":0.6437,"h":0.6446,"l":0.643,"c":0.6434},
{"i":470,"o":0.6434,"h":0.644,"l":0.642,"c":0.6434},
{"i":471,"o":0.6432,"h":0.6437,"l":0.641,"c":0.6426},
{"i":472,"o":0.6426,"h":0.6454,"l":0.6424,"c":0.6451},
{"i":473,"o":0.6451,"h":0.648,"l":0.6448,"c":0.6474},
{"i":474,"o":0.6474,"h":0.6483,"l":0.6466,"c":0.648},
{"i":475,"o":0.648,"h":0.6482,"l":0.6463,"c":0.6466},
{"i":476,"o":0.6466,"h":0.6477,"l":0.6463,"c":0.6473},
{"i":477,"o":0.6473,"h":0.6484,"l":0.6466,"c":0.6476},
{"i":478,"o":0.6476,"h":0.6487,"l":0.6465,"c":0.6479},
{"i":479,"o":0.6479,"h":0.6489,"l":0.6474,"c":0.6486},
{"i":480,"o":0.6486,"h":0.6489,"l":0.6473,"c":0.6478},
{"i":481,"o":0.6478,"h":0.6499,"l":0.6475,"c":0.6496},
{"i":482,"o":0.6496,"h":0.6497,"l":0.648,"c":0.6485},
{"i":483,"o":0.649,"h":0.6491,"l":0.6458,"c":0.6464},
{"i":484,"o":0.6468,"h":0.6471,"l":0.6452,"c":0.6464},
{"i":485,"o":0.6467,"h":0.647,"l":0.646,"c":0.6463},
{"i":486,"o":0.6463,"h":0.6474,"l":0.6455,"c":0.6468},
{"i":487,"o":0.6468,"h":0.6471,"l":0.6461,"c":0.6466},
{"i":488,"o":0.6466,"h":0.6468,"l":0.6455,"c":0.6462},
{"i":489,"o":0.6462,"h":0.6487,"l":0.6459,"c":0.6483},
{"i":490,"o":0.6483,"h":0.6485,"l":0.6465,"c":0.6475},
{"i":491,"o":0.646,"h":0.6488,"l":0.6459,"c":0.6485},
{"i":492,"o":0.6485,"h":0.6487,"l":0.6476,"c":0.6479},
{"i":493,"o":0.6479,"h":0.6489,"l":0.6475,"c":0.6483},
{"i":494,"o":0.6483,"h":0.6486,"l":0.6468,"c":0.6478},
{"i":495,"o":0.6478,"h":0.6499,"l":0.6477,"c":0.6491},
{"i":496,"o":0.6486,"h":0.6503,"l":0.6484,"c":0.6491},
{"i":497,"o":0.6483,"h":0.65,"l":0.648,"c":0.6492},
{"i":498,"o":0.6492,"h":0.6503,"l":0.649,"c":0.6499},
{"i":499,"o":0.6498,"h":0.6502,"l":0.6474,"c":0.6476},
{"i":500,"o":0.6476,"h":0.6478,"l":0.6454,"c":0.646},
{"i":501,"o":0.646,"h":0.6463,"l":0.645,"c":0.6458},
{"i":502,"o":0.6458,"h":0.6464,"l":0.6453,"c":0.646},
{"i":503,"o":0.646,"h":0.6462,"l":0.6446,"c":0.6454},
{"i":504,"o":0.6454,"h":0.6458,"l":0.6445,"c":0.6451},
{"i":505,"o":0.6451,"h":0.6453,"l":0.6423,"c":0.6426},
{"i":506,"o":0.6426,"h":0.6436,"l":0.6405,"c":0.6431},
{"i":507,"o":0.6431,"h":0.6433,"l":0.6417,"c":0.6423},
{"i":508,"o":0.6423,"h":0.6427,"l":0.642,"c":0.6423},
{"i":509,"o":0.6421,"h":0.6423,"l":0.641,"c":0.6416},
{"i":510,"o":0.6416,"h":0.6433,"l":0.6412,"c":0.643},
{"i":511,"o":0.643,"h":0.6437,"l":0.6425,"c":0.6432},
{"i":512,"o":0.6432,"h":0.6448,"l":0.6428,"c":0.6446},
{"i":513,"o":0.6446,"h":0.6449,"l":0.6432,"c":0.6437},
{"i":514,"o":0.6437,"h":0.6438,"l":0.6423,"c":0.6431},
{"i":515,"o":0.6431,"h":0.6433,"l":0.6422,"c":0.6429},
{"i":516,"o":0.6429,"h":0.6436,"l":0.6421,"c":0.643},
{"i":517,"o":0.6429,"h":0.6431,"l":0.6408,"c":0.6413},
{"i":518,"o":0.6413,"h":0.643,"l":0.6411,"c":0.6418},
{"i":519,"o":0.6418,"h":0.6438,"l":0.6413,"c":0.6429},
{"i":520,"o":0.6429,"h":0.6442,"l":0.642,"c":0.6438},
{"i":521,"o":0.6438,"h":0.6446,"l":0.6435,"c":0.6441},
{"i":522,"o":0.6441,"h":0.6458,"l":0.643,"c":0.6447},
{"i":523,"o":0.6447,"h":0.6453,"l":0.644,"c":0.6446},
{"i":524,"o":0.6445,"h":0.6448,"l":0.6425,"c":0.6431},
{"i":525,"o":0.6431,"h":0.6437,"l":0.6423,"c":0.643},
{"i":526,"o":0.6431,"h":0.6444,"l":0.6425,"c":0.6428},
{"i":527,"o":0.6428,"h":0.6449,"l":0.6426,"c":0.6445},
{"i":528,"o":0.645,"h":0.6452,"l":0.6432,"c":0.6438},
{"i":529,"o":0.6438,"h":0.6441,"l":0.6426,"c":0.6436},
{"i":530,"o":0.6436,"h":0.6457,"l":0.6432,"c":0.645},
{"i":531,"o":0.645,"h":0.6453,"l":0.6424,"c":0.643},
{"i":532,"o":0.643,"h":0.6435,"l":0.642,"c":0.6429},
{"i":533,"o":0.6431,"h":0.6433,"l":0.6422,"c":0.6425},
{"i":534,"o":0.6425,"h":0.6435,"l":0.6419,"c":0.6429},
{"i":535,"o":0.6429,"h":0.6439,"l":0.6424,"c":0.6435},
{"i":536,"o":0.6436,"h":0.6437,"l":0.6428,"c":0.6431},
{"i":537,"o":0.6431,"h":0.646,"l":0.6428,"c":0.6455},
{"i":538,"o":0.6455,"h":0.6467,"l":0.6452,"c":0.6458},
{"i":539,"o":0.6458,"h":0.6465,"l":0.6453,"c":0.6459},
{"i":540,"o":0.6459,"h":0.6469,"l":0.6458,"c":0.6464},
{"i":541,"o":0.6464,"h":0.6472,"l":0.6461,"c":0.6469},
{"i":542,"o":0.6469,"h":0.6472,"l":0.6459,"c":0.6464},
{"i":543,"o":0.6464,"h":0.6468,"l":0.644,"c":0.6458},
{"i":544,"o":0.6458,"h":0.6474,"l":0.6455,"c":0.6464},
{"i":545,"o":0.6464,"h":0.647,"l":0.646,"c":0.6465},
{"i":546,"o":0.6465,"h":0.6477,"l":0.6463,"c":0.6473},
{"i":547,"o":0.6473,"h":0.6491,"l":0.647,"c":0.6489},
{"i":548,"o":0.6489,"h":0.6532,"l":0.6487,"c":0.653},
{"i":549,"o":0.653,"h":0.6547,"l":0.652,"c":0.6545},
{"i":550,"o":0.65448,"h":0.65469,"l":0.65368,"c":0.65413}
]
},
"layer": [
{
"data": {"name": "levels"},
"mark": {"type": "rule", "strokeWidth": 1},
"encoding": {
"y": {"field": "price", "type": "quantitative",
"scale": {"domain": [0.58723, 0.66392], "nice": false, "zero": false},
"axis": {"orient": "right", "title": null, "format": ".5f",
"values": [0.58865,0.5912,0.59375,0.5963,0.59885,0.6014,0.60395,0.6065,0.60905,0.6116,0.61415,0.6167,0.61925,0.6218,0.62435,0.6269,0.62945,0.632,0.63455,0.6371,0.63965,0.6422,0.64475,0.6473,0.64985,0.6524,0.65495,0.6575,0.66005,0.6626],
"grid": true, "gridColor": "#c0c0c0", "gridDash": [4, 3], "gridWidth": 1,
"domain": false, "ticks": true, "tickSize": 4, "tickColor": "#000000",
"labelPadding": 5, "labelFont": "Liberation Sans", "labelFontSize": 18, "labelColor": "#000000",
"labelOverlap": false, "labelBound": false, "labelFlush": false}},
"color": {"field": "name", "type": "nominal", "legend": null,
"scale": {"domain": ["Bid","Target","H4[+2/8]","H4[+1/8]","D1[3/8] H4RES","H4[7/8]","H4[6/8]","H4[5/8]","D1[2/8] H4PIVOT","H4[3/8]","H4[2/8]","H4[1/8]","D1[1/8] H4SUP","H4[-1/8]","H4[-2/8]"],
"range": ["#c0c0c0","#ff0000","#c71585","#ff00ff","#1e90ff","#ff8c00","#ff4500","#556b2f","#1e90ff","#556b2f","#ff4500","#ff8c00","#1e90ff","#ff00ff","#c71585"]}},
"strokeDash": {"field": "kind", "type": "nominal", "legend": null,
"scale": {"domain": ["H4","D1","X","BID"], "range": [[14,6],[1,0],[1,0],[1,0]]}}
}
},
{
"data": {"name": "candles"},
"mark": {"type": "rule", "color": "#000000", "strokeWidth": 1},
"encoding": {
"x": {"field": "i", "type": "quantitative",
"scale": {"domain": [-0.875, 934.875], "nice": false, "zero": false},
"axis": {"orient": "bottom", "title": null,
"values": [0,16,32,48,64,80,96,112,128,144,160,176,192,208,224,240,256,272,288,304,320,336,352,368,384,400,416,432,448,464,480,496,512,528,544,560,576,592,608,624,640,656,672,688,704,720,736,752,768,784,800,816,832,848,864,880,896,912,928],
"labelExpr": "(datum.value % 32 === 0 && datum.value / 32 < 18) ? ['13 Oct 2020','20 Oct 12:00','27 Oct 20:00','4 Nov 04:00','11 Nov 12:00','18 Nov 20:00','26 Nov 04:00','3 Dec 12:00','10 Dec 20:00','18 Dec 04:00','28 Dec 12:00','5 Jan 20:00','13 Jan 04:00','20 Jan 12:00','27 Jan 20:00','4 Feb 04:00','11 Feb 12:00','18 Feb 20:00'][datum.value / 32] : ''",
"grid": true, "gridColor": "#c0c0c0", "gridDash": [4, 3], "gridWidth": 1,
"domain": false, "ticks": true, "tickSize": 4, "tickColor": "#000000",
"tickOpacity": {"condition": {"test": "datum.value % 32 === 0 && datum.value < 560", "value": 1}, "value": 0},
"labelAlign": "left", "labelBaseline": "top", "labelPadding": 2, "labelOffset": 1,
"labelFont": "Liberation Sans", "labelFontSize": 18, "labelColor": "#000000",
"labelOverlap": false, "labelBound": false, "labelFlush": false}},
"y": {"field": "l", "type": "quantitative"},
"y2": {"field": "h"}
}
},
{
"data": {"name": "candles"},
"mark": {"type": "bar", "size": 2, "stroke": "#000000", "strokeWidth": 1},
"encoding": {
"x": {"field": "i", "type": "quantitative"},
"y": {"field": "o", "type": "quantitative"},
"y2": {"field": "c"},
"fill": {"condition": {"test": "datum.c >= datum.o", "value": "#ffffff"}, "value": "#000000"}
}
},
{
"data": {"name": "levels"},
"transform": [{"filter": "datum.kind == 'H4' || datum.kind == 'D1'"}],
"mark": {"type": "text", "font": "Liberation Sans", "fontSize": 20.5, "align": "center", "baseline": "top", "dy": 3},
"encoding": {
"x": {"datum": 524},
"y": {"field": "price", "type": "quantitative"},
"text": {"field": "name"},
"color": {"field": "name", "type": "nominal", "legend": null}
}
},
{
"data": {"name": "objects"},
"transform": [{"filter": "datum.obj == 'cross'"}],
"mark": {"type": "point", "shape": "M-1,-1L1,1M-1,1L1,-1", "filled": false, "size": 840, "strokeWidth": 6, "stroke": "#e8404a", "strokeCap": "butt", "opacity": 1},
"encoding": {"x": {"field": "i", "type": "quantitative"}, "y": {"field": "price", "type": "quantitative"}}
},
{
"data": {"name": "objects"},
"transform": [{"filter": "datum.obj == 'shift'"}],
"mark": {"type": "point", "shape": "triangle-down", "filled": true, "size": 220, "fill": "#a0a0a0", "opacity": 1},
"encoding": {"x": {"field": "i", "type": "quantitative"}, "y": {"field": "price", "type": "quantitative"}}
},
{
"data": {"name": "levels"},
"transform": [{"filter": "datum.kind == 'BID'"}],
"mark": {"type": "point", "shape": "M-1,-0.12H1V0.42H-1Z", "filled": true, "size": 6400, "strokeWidth": 0, "opacity": 1},
"encoding": {
"x": {"datum": 945.5},
"y": {"field": "price", "type": "quantitative"},
"fill": {"field": "name", "type": "nominal", "legend": null,
"scale": {"domain": ["Bid","Target","H4[+2/8]","H4[+1/8]","D1[3/8] H4RES","H4[7/8]","H4[6/8]","H4[5/8]","D1[2/8] H4PIVOT","H4[3/8]","H4[2/8]","H4[1/8]","D1[1/8] H4SUP","H4[-1/8]","H4[-2/8]"],
"range": ["#000000","#ff0000","#c71585","#ff00ff","#1e90ff","#ff8c00","#ff4500","#556b2f","#1e90ff","#556b2f","#ff4500","#ff8c00","#1e90ff","#ff00ff","#c71585"]}}
}
},
{
"data": {"name": "levels"},
"transform": [{"filter": "datum.kind == 'BID'"}],
"mark": {"type": "text", "font": "Liberation Sans", "fontSize": 18, "color": "#ffffff", "align": "center", "baseline": "middle", "dy": 6},
"encoding": {
"x": {"datum": 945.5},
"y": {"field": "price", "type": "quantitative"},
"text": {"field": "price", "type": "quantitative", "format": ".5f"}
}
},
{
"data": {"name": "levels"},
"transform": [{"filter": "datum.kind != 'BID'"}],
"mark": {"type": "point", "shape": "M-1,-0.12H1V0.42H-1Z", "filled": true, "size": 6400, "strokeWidth": 0, "opacity": 1},
"encoding": {
"x": {"datum": 945.5},
"y": {"field": "price", "type": "quantitative"},
"fill": {"field": "name", "type": "nominal", "legend": null}
}
},
{
"data": {"name": "levels"},
"transform": [{"filter": "datum.kind != 'BID'"}],
"mark": {"type": "text", "font": "Liberation Sans", "fontSize": 18, "color": "#ffffff", "align": "center", "baseline": "middle", "dy": 6},
"encoding": {
"x": {"datum": 945.5},
"y": {"field": "price", "type": "quantitative"},
"text": {"field": "price", "type": "quantitative", "format": ".5f"}
}
}
],
"config": {
"view": {"stroke": "#000000", "strokeWidth": 1},
"legend": {"disable": true}
}
}
